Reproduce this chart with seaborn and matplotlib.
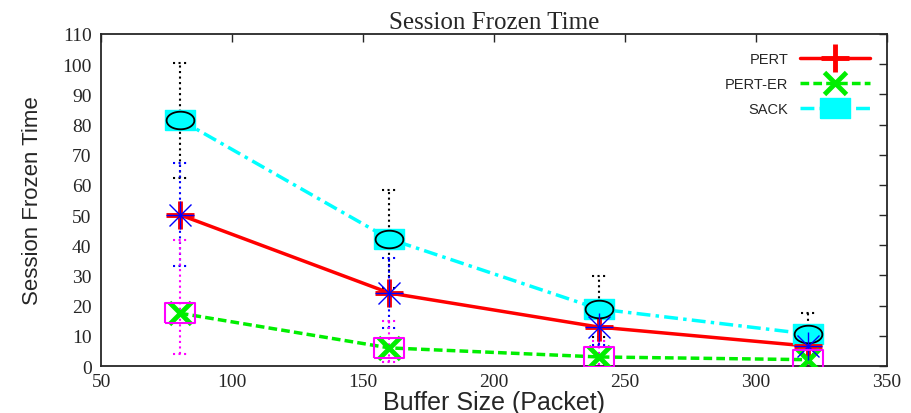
import numpy as np
import pandas as pd
import seaborn as sns
import matplotlib.pyplot as plt
from matplotlib.lines import Line2D

buffer_size = [80, 160, 240, 320]
pert = [50.1, 24.2, 12.9, 6.6]
pert_lo = [33, 12.6, 7, 4]
pert_hi = [67.3, 35.9, 19, 9]
pert_er = [17.5, 6.0, 3.0, 2.1]
pert_er_lo = [4, 1.3, 0.5, 0.5]
pert_er_hi = [41.7, 15, 8.4, 5]
sack = [81.6, 42.1, 18.9, 10.6]
sack_lo = [62.3, 26, 9.5, 4]
sack_hi = [100.4, 58.4, 29.9, 17.5]

df = pd.DataFrame({
    'Buffer': buffer_size * 3,
    'Time': pert + pert_er + sack,
    'Proto': ['PERT'] * 4 + ['PERT-ER'] * 4 + ['SACK'] * 4,
})

sns.set_style('white')
plt.rcParams['font.family'] = ['Liberation Serif', 'DejaVu Serif']

# wide, flat markers like the gnuplot original
rect = [(-1.6, -1), (1.6, -1), (1.6, 1), (-1.6, 1), (-1.6, -1)]
t = np.linspace(0, 2 * np.pi, 60)
ellipse = list(zip(1.5 * np.cos(t), 0.95 * np.sin(t)))

fig = plt.figure(figsize=(9.12, 4.14), dpi=100)
ax = fig.add_axes([0.111, 0.1135, 0.8615, 0.802])

colors = {'PERT': 'red', 'PERT-ER': '#00ee00', 'SACK': 'cyan'}
dashes = {'PERT': '', 'PERT-ER': (2.5, 1.2), 'SACK': (4, 1.5, 1, 1.5)}
sns.lineplot(data=df, x='Buffer', y='Time', hue='Proto', style='Proto',
             palette=colors, dashes=dashes, linewidth=2.5, legend=False, ax=ax, zorder=2)

def errbars(y, lo, hi, color):
    ax.vlines(buffer_size, lo, hi, colors=color, linestyles=':', linewidth=1.5, zorder=1)
    xs = np.array(buffer_size)
    for v in (lo, hi):
        ax.hlines(v, xs - 2.7, xs + 2.7, colors=color, linestyles=':', linewidth=1.5, zorder=1)

errbars(sack, sack_lo, sack_hi, 'black')
errbars(pert, pert_lo, pert_hi, 'blue')
errbars(pert_er, pert_er_lo, pert_er_hi, 'magenta')

# SACK points
ax.plot(buffer_size, sack, ls='none', marker=rect, ms=22, mfc='cyan', mec='cyan', zorder=3)
ax.plot(buffer_size, sack, ls='none', marker=ellipse, ms=20, mfc='cyan', mec='black', mew=1.3, zorder=4)
# PERT points
ax.plot(buffer_size, pert, ls='none', marker='+', ms=20, mec='red', mew=3.5, zorder=3)
ax.plot(buffer_size, pert, ls='none', marker='+', ms=20, mec='blue', mew=1, zorder=4)
ax.plot(buffer_size, pert, ls='none', marker='x', ms=16, mec='blue', mew=1, zorder=4)
# PERT-ER points
ax.plot(buffer_size, pert_er, ls='none', marker='x', ms=16, mec='#00ee00', mew=3.5, zorder=3)
ax.plot(buffer_size, pert_er, ls='none', marker=rect, ms=22, mfc='none', mec='magenta', mew=1.5, zorder=4)

ax.set_xlim(50, 350)
ax.set_ylim(0, 110)
ax.set_xticks(range(50, 351, 50))
ax.set_yticks(range(0, 111, 10))
ax.tick_params(direction='in', top=True, right=True, length=6, width=1, labelsize=14)
ax.tick_params(axis='y', pad=7)
ax.tick_params(axis='x', pad=5)
for s in ax.spines.values():
    s.set_linewidth(1.3)

ax.set_title('Session Frozen Time', fontsize=18, pad=4)
ax.set_xlabel('Buffer Size (Packet)', fontsize=18, family=['Liberation Sans', 'DejaVu Sans'], labelpad=0)
ax.set_ylabel('Session Frozen Time', fontsize=16,
              family=['Liberation Sans Narrow', 'Liberation Sans', 'DejaVu Sans'], labelpad=14)

handles = [
    Line2D([], [], color='red', lw=2.5, marker='+', ms=20, mew=3.5),
    Line2D([], [], color='#00ee00', lw=2.5, ls=(0, (2.5, 1.2)), marker='x', ms=16, mew=3.5),
    Line2D([], [], color='cyan', lw=2.5, ls=(0, (4, 1.5, 1, 1.5)), marker=rect, ms=22),
]
leg = ax.legend(handles, ['PERT', 'PERT-ER', 'SACK'], loc='upper right', frameon=False,
                markerfirst=False, handlelength=4.8, numpoints=1,
                labelspacing=0.75, prop={'family': ['Liberation Sans', 'DejaVu Sans'], 'size': 10.5},
                bbox_to_anchor=(0.995, 0.985))

fig.savefig('out.png', dpi=100)
